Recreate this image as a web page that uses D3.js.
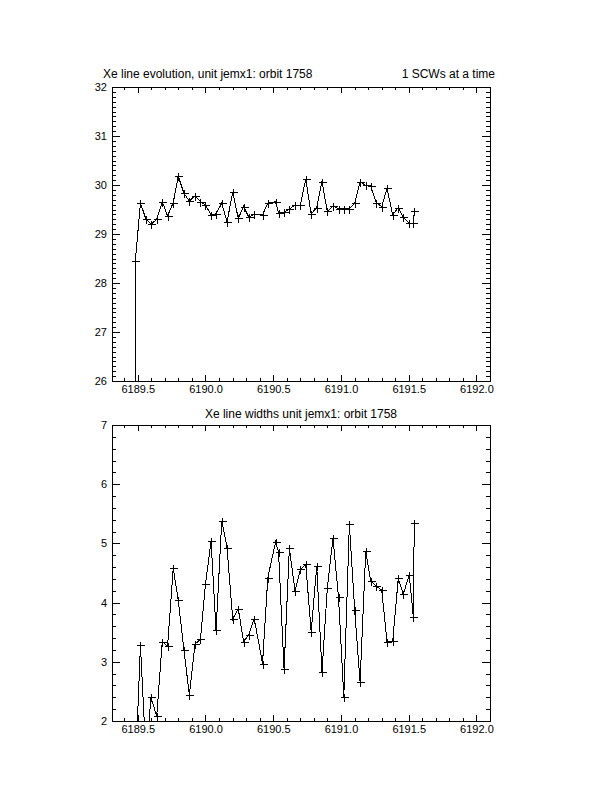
<!DOCTYPE html>
<html>
<head>
<meta charset="utf-8">
<script src="https://cdn.jsdelivr.net/npm/d3@7"></script>
<style>
  body { margin: 0; background: #fff; }
  svg { display: block; font-family: "Liberation Sans", Helvetica, Arial, sans-serif; }
  .tick text { fill: #000; }
</style>
</head>
<body>
<div id="chart"></div>
<script>
// observation times (days), shared by both panels
const times = [
  6189.475, 6189.482, 6189.520, 6189.561, 6189.598, 6189.640, 6189.681, 6189.720,
  6189.762, 6189.799, 6189.841, 6189.881, 6189.923, 6189.963, 6190.000, 6190.041,
  6190.078, 6190.120, 6190.159, 6190.201, 6190.242, 6190.281, 6190.321, 6190.360,
  6190.421, 6190.460, 6190.517, 6190.539, 6190.580, 6190.619, 6190.661, 6190.700,
  6190.740, 6190.780, 6190.821, 6190.860, 6190.899, 6190.941, 6190.982, 6191.021,
  6191.062, 6191.101, 6191.141, 6191.183, 6191.220, 6191.261, 6191.301, 6191.340,
  6191.382, 6191.423, 6191.460, 6191.504, 6191.534, 6191.541
];

// line energy (top panel)
const lineEnergy = [
  20.0, 28.45, 29.63, 29.30, 29.20, 29.30, 29.66, 29.37,
  29.64, 30.18, 29.83, 29.67, 29.78, 29.66, 29.59, 29.39,
  29.41, 29.63, 29.25, 29.85, 29.32, 29.56, 29.34, 29.41,
  29.39, 29.63, 29.66, 29.43, 29.44, 29.51, 29.59, 29.59,
  30.12, 29.41, 29.54, 30.07, 29.46, 29.57, 29.52, 29.52,
  29.52, 29.63, 30.07, 29.99, 29.97, 29.64, 29.56, 29.93,
  29.39, 29.54, 29.34, 29.22, 29.22, 29.46
];

// line width (bottom panel)
const lineWidth = [
  0.5, 1.1, 3.28, 1.4, 2.40, 2.08, 3.34, 3.26,
  4.58, 4.04, 3.20, 2.44, 3.30, 3.38, 4.31, 5.04,
  3.53, 5.38, 4.93, 3.72, 3.90, 3.34, 3.46, 3.73,
  2.97, 4.42, 5.02, 4.86, 2.88, 4.92, 4.20, 4.56,
  4.65, 3.51, 4.61, 2.83, 4.24, 5.09, 4.09, 2.41,
  5.32, 3.88, 2.66, 4.87, 4.36, 4.28, 4.21, 3.34,
  3.35, 4.41, 4.14, 4.47, 3.76, 5.35
];

const xTicks = [6189.5, 6190.0, 6190.5, 6191.0, 6191.5, 6192.0];
const topYTicks = [26, 27, 28, 29, 30, 31, 32];
const bottomYTicks = [2, 3, 4, 5, 6, 7];

const width = 612;
const height = 792;

const svg = d3.select('#chart')
  .append('svg')
  .attr('width', width)
  .attr('height', height);

const xDomain = [6189.31, 6192.1];

function drawPanel(opts) {
  const { left, right, top, bottom } = opts.box;
  const g = svg.append('g');

  const x = d3.scaleLinear().domain(xDomain).range([left, right]);
  const y = d3.scaleLinear().domain(opts.yDomain).range([bottom, top]);

  const plotW = right - left;
  const plotH = bottom - top;
  const xLen = 0.02 * plotH;
  const yLen = 0.02 * plotW;

  const xMinor = d3.range(6189.4, 6192.05, 0.1).map(v => +v.toFixed(1))
    .filter(v => !xTicks.includes(v));
  const yMinor = d3.range(opts.yDomain[0], opts.yDomain[1] + 1e-6, opts.yMinorStep)
    .map(v => +v.toFixed(1))
    .filter(v => !opts.yTicks.includes(v));

  // bottom axis with labels
  g.append('g')
    .attr('transform', `translate(0,${bottom})`)
    .call(d3.axisBottom(x).tickValues(xTicks).tickSizeInner(-xLen).tickSizeOuter(0)
      .tickPadding(4).tickFormat(d3.format('.1f')))
    .call(a => a.select('.domain').remove())
    .call(a => a.selectAll('text').attr('font-size', 11));
  g.append('g')
    .attr('transform', `translate(0,${bottom})`)
    .call(d3.axisBottom(x).tickValues(xMinor).tickSizeInner(-xLen / 2).tickSizeOuter(0).tickFormat(''))
    .call(a => a.select('.domain').remove());

  // top axis, ticks only
  g.append('g')
    .attr('transform', `translate(0,${top})`)
    .call(d3.axisTop(x).tickValues(xTicks).tickSizeInner(-xLen).tickSizeOuter(0).tickFormat(''))
    .call(a => a.select('.domain').remove());
  g.append('g')
    .attr('transform', `translate(0,${top})`)
    .call(d3.axisTop(x).tickValues(xMinor).tickSizeInner(-xLen / 2).tickSizeOuter(0).tickFormat(''))
    .call(a => a.select('.domain').remove());

  // left axis with labels
  g.append('g')
    .attr('transform', `translate(${left},0)`)
    .call(d3.axisLeft(y).tickValues(opts.yTicks).tickSizeInner(-yLen).tickSizeOuter(0)
      .tickPadding(5).tickFormat(d3.format('d')))
    .call(a => a.select('.domain').remove())
    .call(a => a.selectAll('text').attr('font-size', 11));
  g.append('g')
    .attr('transform', `translate(${left},0)`)
    .call(d3.axisLeft(y).tickValues(yMinor).tickSizeInner(-yLen / 2).tickSizeOuter(0).tickFormat(''))
    .call(a => a.select('.domain').remove());

  // right axis, ticks only
  g.append('g')
    .attr('transform', `translate(${right},0)`)
    .call(d3.axisRight(y).tickValues(opts.yTicks).tickSizeInner(-yLen).tickSizeOuter(0).tickFormat(''))
    .call(a => a.select('.domain').remove());
  g.append('g')
    .attr('transform', `translate(${right},0)`)
    .call(d3.axisRight(y).tickValues(yMinor).tickSizeInner(-yLen / 2).tickSizeOuter(0).tickFormat(''))
    .call(a => a.select('.domain').remove());

  g.selectAll('.tick line').attr('stroke', '#000').attr('shape-rendering', 'crispEdges');

  // frame
  g.append('rect')
    .attr('x', left).attr('y', top)
    .attr('width', plotW).attr('height', plotH)
    .attr('fill', 'none').attr('stroke', '#000')
    .attr('shape-rendering', 'crispEdges');

  // clip the data to the plot window
  const clipId = 'clip-' + opts.name;
  svg.append('clipPath').attr('id', clipId)
    .append('rect')
    .attr('x', left).attr('y', top)
    .attr('width', plotW).attr('height', plotH);

  const pts = times.map((t, i) => [t, opts.values[i]]);
  const data = g.append('g').attr('clip-path', `url(#${clipId})`);

  data.append('path')
    .datum(pts)
    .attr('fill', 'none')
    .attr('stroke', '#000')
    .attr('stroke-width', 1)
    .attr('shape-rendering', 'crispEdges')
    .attr('d', d3.line().x(d => x(d[0])).y(d => y(d[1])));

  data.selectAll('path.mark')
    .data(pts)
    .enter()
    .append('path')
    .attr('class', 'mark')
    .attr('fill', 'none')
    .attr('stroke', '#000')
    .attr('stroke-width', 1)
    .attr('shape-rendering', 'crispEdges')
    .attr('d', d => {
      const px = Math.round(x(d[0])) + 0.5;
      const py = Math.round(y(d[1])) + 0.5;
      return `M${px - 4},${py}H${px + 4}M${px},${py - 4}V${py + 4}`;
    });

  // titles
  opts.titles.forEach(t => {
    g.append('text')
      .attr('x', t.x)
      .attr('y', t.y)
      .attr('text-anchor', t.anchor)
      .attr('font-size', 12)
      .attr('fill', '#000')
      .text(t.text);
  });
}

drawPanel({
  name: 'energy',
  box: { left: 112, right: 490, top: 87, bottom: 381 },
  yDomain: [26, 32],
  yTicks: topYTicks,
  yMinorStep: 0.1,
  values: lineEnergy,
  titles: [
    { text: 'Xe line evolution, unit jemx1: orbit 1758', x: 103, y: 78, anchor: 'start' },
    { text: '1 SCWs at a time', x: 495, y: 78, anchor: 'end' }
  ]
});

drawPanel({
  name: 'width',
  box: { left: 112, right: 490, top: 425, bottom: 721 },
  yDomain: [2, 7],
  yTicks: bottomYTicks,
  yMinorStep: 0.2,
  values: lineWidth,
  titles: [
    { text: 'Xe line widths unit jemx1: orbit 1758', x: 301, y: 418, anchor: 'middle' }
  ]
});
</script>
</body>
</html>
